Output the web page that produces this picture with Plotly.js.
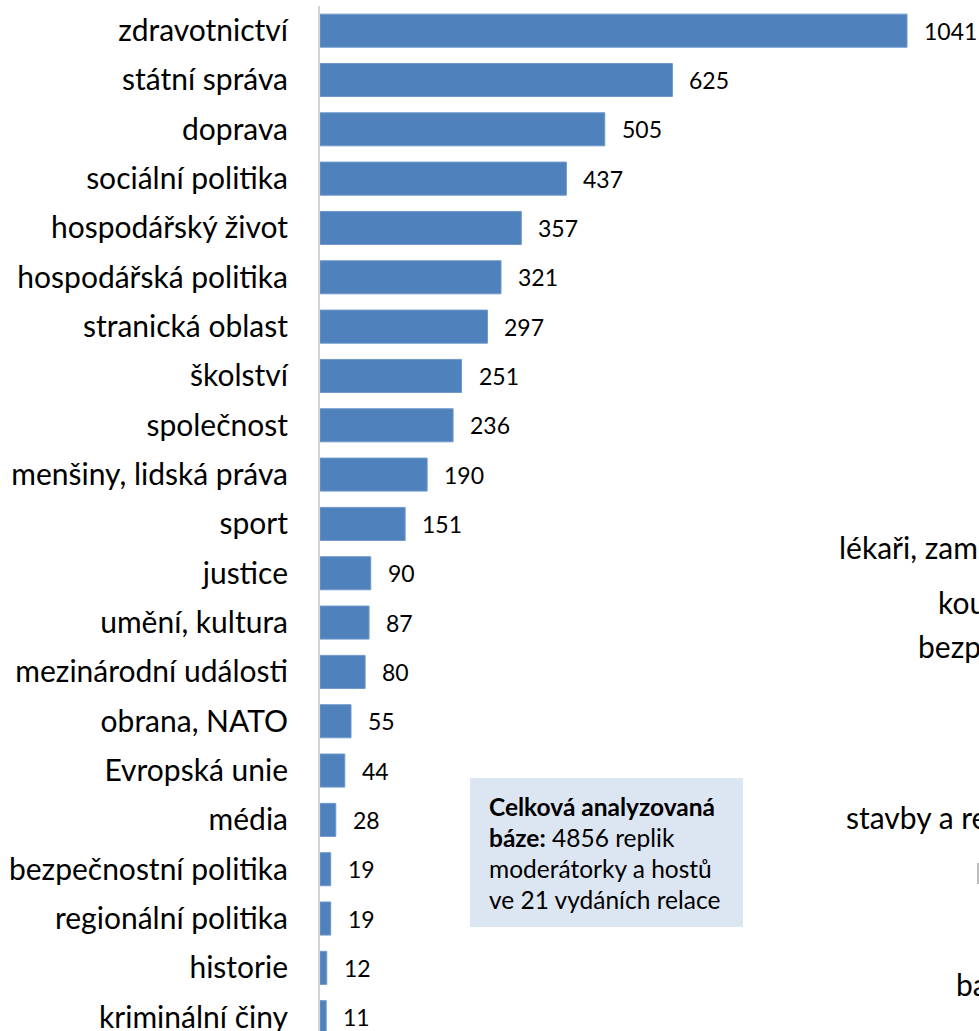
<!DOCTYPE html>
<html>
<head>
<meta charset="utf-8">
<script src="https://cdn.plot.ly/plotly-3.0.1.min.js"></script>
<style>html,body{margin:0;padding:0;background:#fff;}#chart{width:979px;height:1031px;}</style>
</head>
<body>
<div id="chart"></div>
<script>
const categories = ["zdravotnictví","státní správa","doprava","sociální politika","hospodářský život","hospodářská politika","stranická oblast","školství","společnost","menšiny, lidská práva","sport","justice","umění, kultura","mezinárodní události","obrana, NATO","Evropská unie","média","bezpečnostní politika","regionální politika","historie","kriminální činy"];
const values = [1041,625,505,437,357,321,297,251,236,190,151,90,87,80,55,44,28,19,19,12,11];
const noteLines = ["<b>Celková analyzovaná</b>","<b>báze:</b> 4856 replik","moderátorky a hostů","ve 21 vydáních relace"];
const strayTexts = ["lékaři, zam","kou","bezp","stavby a re","ba"];

const W = 979, H = 1031;
const L = 320, T = 6;
const pw = W - L, ph = H - T;
const px = x => (x - L) / pw;
const py = y => 1 - (y - T) / ph;

const font = "Lato, 'Noto Sans', sans-serif";

const annotations = values.map((v, i) => ({
  x: v, y: categories[i], xref: 'x', yref: 'y',
  text: String(v), showarrow: false, xanchor: 'left', xshift: 15,
  font: {family: font, size: 23, color: '#000'}
}));

noteLines.forEach((t, i) => annotations.push({
  xref: 'paper', yref: 'paper', x: px(487), y: py(806 + i * 31.3),
  text: t, showarrow: false, xanchor: 'left', yanchor: 'middle', align: 'left',
  font: {family: font, size: 24.5, color: '#000'}
}));

const strayPos = [[837,547],[936,602],[916,646],[844,817],[954,984]];
strayTexts.forEach((t, i) => annotations.push({
  xref: 'paper', yref: 'paper', x: px(strayPos[i][0]), y: py(strayPos[i][1]),
  text: t, showarrow: false, xanchor: 'left', yanchor: 'middle',
  font: {family: font, size: 30, color: '#000'}
}));

const data = [{
  type: 'bar', orientation: 'h',
  x: values, y: categories,
  width: 0.67,
  marker: {color: '#4f81bd', line: {color: '#6f98cc', width: 1}},
  hoverinfo: 'skip'
}];

const layout = {
  width: W, height: H,
  margin: {l: L, r: 0, t: T, b: 0, pad: 0},
  paper_bgcolor: '#fff', plot_bgcolor: '#fff',
  showlegend: false,
  xaxis: {range: [0, pw / 0.5639], visible: false, fixedrange: true},
  yaxis: {
    type: 'category', categoryorder: 'array', categoryarray: categories,
    range: [20.28, -0.5],
    showline: true, linecolor: '#d4d4d4', linewidth: 2,
    showgrid: false, zeroline: false, ticks: '',
    ticklabelstandoff: 24,
    tickfont: {family: font, size: 30, color: '#000'}
  },
  shapes: [{
    type: 'rect', xref: 'paper', yref: 'paper',
    x0: px(470), x1: px(743), y0: py(927), y1: py(778),
    fillcolor: '#dce6f2', line: {width: 0}, layer: 'below'
  }, {
    type: 'line', xref: 'paper', yref: 'paper',
    x0: px(978), x1: px(978), y0: py(863), y1: py(884),
    line: {color: '#a6a6a6', width: 1.5}
  }],
  annotations: annotations
};

Plotly.newPlot('chart', data, layout, {displayModeBar: false, staticPlot: true});
</script>
</body>
</html>
